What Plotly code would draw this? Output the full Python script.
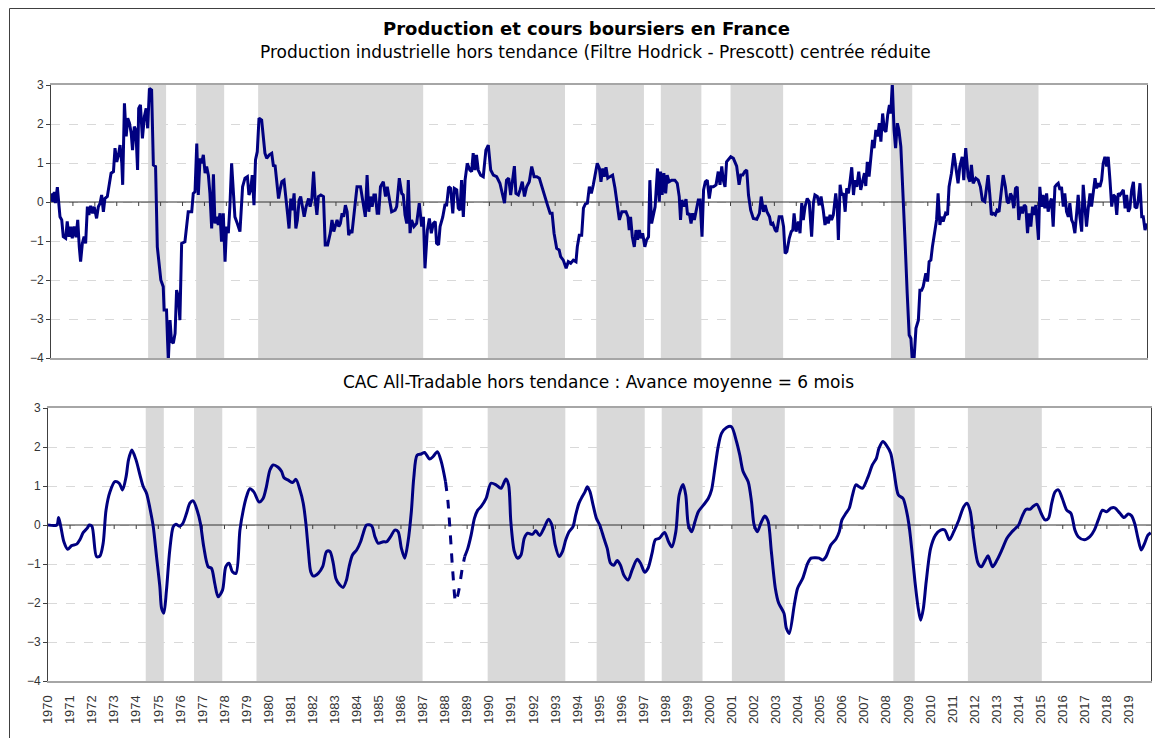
import plotly.graph_objects as go

# ---------------- Data ----------------
YEARS = list(range(1970, 2020))
YEAR_LABELS = [str(y) for y in YEARS]

# Shaded phases (decimal years)
SHADE_START = [1974.43, 1976.62, 1979.45, 1989.93, 1994.87, 1997.82, 2001.0, 2008.32, 2011.7]
SHADE_END = [1975.25, 1977.9, 1986.98, 1993.45, 1997.05, 1999.67, 2003.4, 2009.29, 2015.05]

# Industrial production, detrended (HP filter), standardized
IP_X = [
    1970.0, 1970.08, 1970.15, 1970.2, 1970.29, 1970.35, 1970.41, 1970.49, 1970.56, 1970.67,
    1970.74, 1970.82, 1970.9, 1970.97, 1971.05, 1971.14, 1971.22, 1971.29, 1971.35, 1971.43,
    1971.51, 1971.58, 1971.66, 1971.73, 1971.81, 1971.9, 1971.97, 1972.08, 1972.16, 1972.24,
    1972.31, 1972.39, 1972.46, 1972.57, 1972.66, 1972.74, 1972.85, 1972.92, 1973.0, 1973.08,
    1973.15, 1973.23, 1973.27, 1973.35, 1973.43, 1973.5, 1973.58, 1973.66, 1973.72, 1973.8,
    1973.87, 1973.95, 1974.0, 1974.08, 1974.17, 1974.26, 1974.34, 1974.41, 1974.49, 1974.59,
    1974.67, 1974.77, 1974.85, 1974.94, 1975.01, 1975.12, 1975.16, 1975.27, 1975.35, 1975.43,
    1975.5, 1975.58, 1975.66, 1975.73, 1975.81, 1975.88, 1975.96, 1976.11, 1976.19, 1976.26,
    1976.42, 1976.49, 1976.57, 1976.65, 1976.72, 1976.8, 1976.87, 1976.95, 1977.03, 1977.1,
    1977.18, 1977.25, 1977.33, 1977.41, 1977.48, 1977.56, 1977.63, 1977.71, 1977.78, 1977.86,
    1977.94, 1978.01, 1978.09, 1978.16, 1978.24, 1978.32, 1978.39, 1978.5, 1978.62, 1978.74,
    1978.85, 1978.96, 1979.03, 1979.11, 1979.18, 1979.26, 1979.33, 1979.41, 1979.49, 1979.61,
    1979.69, 1979.76, 1979.84, 1979.96, 1980.07, 1980.15, 1980.22, 1980.3, 1980.38, 1980.45,
    1980.53, 1980.63, 1980.72, 1980.79, 1980.86, 1980.94, 1981.01, 1981.09, 1981.17, 1981.24,
    1981.32, 1981.39, 1981.47, 1981.55, 1981.64, 1981.75, 1981.82, 1981.9, 1981.98, 1982.05,
    1982.13, 1982.2, 1982.31, 1982.43, 1982.51, 1982.62, 1982.74, 1982.82, 1982.9, 1982.97,
    1983.05, 1983.13, 1983.2, 1983.28, 1983.35, 1983.43, 1983.51, 1983.58, 1983.66, 1983.73,
    1983.81, 1983.89, 1983.96, 1984.12, 1984.27, 1984.34, 1984.42, 1984.5, 1984.57, 1984.65,
    1984.73, 1984.8, 1984.88, 1984.95, 1985.03, 1985.16, 1985.26, 1985.34, 1985.54, 1985.7,
    1985.77, 1985.89, 1986.0, 1986.07, 1986.15, 1986.23, 1986.3, 1986.38, 1986.45, 1986.56,
    1986.68, 1986.8, 1986.91, 1986.99, 1987.06, 1987.17, 1987.26, 1987.35, 1987.44, 1987.53,
    1987.59, 1987.68, 1987.75, 1987.87, 1987.97, 1988.05, 1988.14, 1988.23, 1988.33, 1988.4,
    1988.51, 1988.58, 1988.66, 1988.73, 1988.81, 1988.89, 1988.99, 1989.11, 1989.19, 1989.26,
    1989.34, 1989.41, 1989.49, 1989.6, 1989.72, 1989.84, 1989.95, 1990.06, 1990.18, 1990.33,
    1990.48, 1990.6, 1990.69, 1990.78, 1990.88, 1990.97, 1991.05, 1991.14, 1991.21, 1991.32,
    1991.4, 1991.5, 1991.6, 1991.7, 1991.82, 1991.93, 1992.04, 1992.16, 1992.28, 1992.39,
    1992.54, 1992.65, 1992.77, 1992.86, 1992.95, 1993.07, 1993.18, 1993.25, 1993.37, 1993.5,
    1993.6, 1993.71, 1993.83, 1993.95, 1994.01, 1994.1, 1994.21, 1994.29, 1994.38, 1994.47,
    1994.56, 1994.65, 1994.74, 1994.83, 1994.92, 1995.02, 1995.09, 1995.17, 1995.24, 1995.32,
    1995.4, 1995.5, 1995.62, 1995.73, 1995.84, 1995.93, 1996.04, 1996.14, 1996.23, 1996.32,
    1996.38, 1996.44, 1996.52, 1996.61, 1996.69, 1996.76, 1996.84, 1996.91, 1996.99, 1997.09,
    1997.17, 1997.26, 1997.32, 1997.4, 1997.47, 1997.56, 1997.67, 1997.75, 1997.81, 1997.88,
    1997.96, 1998.04, 1998.11, 1998.2, 1998.31, 1998.46, 1998.57, 1998.66, 1998.72, 1998.78,
    1998.87, 1998.97, 1999.04, 1999.12, 1999.2, 1999.27, 1999.35, 1999.42, 1999.53, 1999.61,
    1999.7, 1999.77, 1999.85, 1999.94, 2000.03, 2000.11, 2000.22, 2000.34, 2000.44, 2000.52,
    2000.6, 2000.67, 2000.75, 2000.82, 2000.9, 2001.01, 2001.13, 2001.28, 2001.39, 2001.47,
    2001.56, 2001.65, 2001.74, 2001.82, 2001.92, 2002.04, 2002.2, 2002.32, 2002.4, 2002.5,
    2002.58, 2002.66, 2002.78, 2002.85, 2002.93, 2003.04, 2003.11, 2003.22, 2003.34, 2003.42,
    2003.49, 2003.57, 2003.68, 2003.77, 2003.84, 2003.9, 2003.99, 2004.1, 2004.17, 2004.25,
    2004.32, 2004.4, 2004.5, 2004.59, 2004.7, 2004.78, 2004.85, 2004.96, 2005.05, 2005.13,
    2005.23, 2005.31, 2005.39, 2005.46, 2005.54, 2005.61, 2005.69, 2005.8, 2005.87, 2005.92,
    2006.0, 2006.07, 2006.15, 2006.23, 2006.3, 2006.38, 2006.46, 2006.53, 2006.61, 2006.68,
    2006.76, 2006.85, 2006.94, 2007.03, 2007.11, 2007.17, 2007.24, 2007.32, 2007.4, 2007.48,
    2007.55, 2007.63, 2007.71, 2007.79, 2007.86, 2007.94, 2008.02, 2008.09, 2008.17, 2008.25,
    2008.31, 2008.38, 2008.46, 2008.53, 2008.61, 2008.68, 2008.77, 2008.85, 2008.96, 2009.06,
    2009.15, 2009.23, 2009.29, 2009.37, 2009.46, 2009.57, 2009.64, 2009.72, 2009.79, 2009.91,
    2009.99, 2010.06, 2010.14, 2010.21, 2010.32, 2010.4, 2010.47, 2010.55, 2010.62, 2010.7,
    2010.81, 2010.9, 2010.97, 2011.08, 2011.19, 2011.28, 2011.38, 2011.46, 2011.57, 2011.64,
    2011.73, 2011.84, 2011.92, 2011.99, 2012.07, 2012.19, 2012.3, 2012.4, 2012.49, 2012.6,
    2012.67, 2012.75, 2012.83, 2012.9, 2012.98, 2013.08, 2013.16, 2013.25, 2013.36, 2013.44,
    2013.54, 2013.62, 2013.69, 2013.77, 2013.84, 2013.92, 2014.0, 2014.08, 2014.15, 2014.24,
    2014.32, 2014.4, 2014.47, 2014.55, 2014.62, 2014.7, 2014.78, 2014.85, 2014.93, 2014.99,
    2015.05, 2015.11, 2015.19, 2015.26, 2015.34, 2015.42, 2015.49, 2015.57, 2015.64, 2015.72,
    2015.8, 2015.87, 2015.95, 2016.03, 2016.1, 2016.18, 2016.25, 2016.33, 2016.41, 2016.48,
    2016.56, 2016.63, 2016.71, 2016.79, 2016.86, 2016.94, 2017.02, 2017.09, 2017.17, 2017.24,
    2017.32, 2017.4, 2017.47, 2017.55, 2017.63, 2017.7, 2017.78, 2017.85, 2017.93, 2018.0,
    2018.08, 2018.16, 2018.23, 2018.31, 2018.39, 2018.46, 2018.54, 2018.62, 2018.69, 2018.77,
    2018.84, 2018.92, 2019.0, 2019.07, 2019.15, 2019.22, 2019.3, 2019.38, 2019.45, 2019.53,
    2019.6, 2019.68, 2019.76, 2019.83, 2019.91, 2019.99,
]
IP_Y = [
    0.22, 0.01, 0.26, -0.03, 0.38, 0.01, -0.38, -0.46, -0.89, -0.93,
    -0.5, -0.89, -0.63, -0.93, -0.63, -0.9, -0.46, -1.15, -1.53, -1.06,
    -0.89, -1.06, -0.12, -0.33, -0.1, -0.29, -0.12, -0.42, -0.12, -0.03,
    0.18, -0.25, 0.09, 0.14, 0.48, 0.74, 0.78, 1.38, 1.03, 1.21,
    1.46, 0.99, 0.44, 2.53, 1.68, 2.15, 2.02, 1.76, 1.33, 1.93,
    1.85, 0.82, 2.4, 2.49, 1.63, 2.19, 2.4, 1.89, 2.91, 2.87,
    0.95, 0.91, -1.15, -1.66, -2.0, -2.17, -2.77, -2.77, -4.1, -3.03,
    -3.58, -3.62, -3.37, -2.26, -2.43, -3.03, -1.06, -1.02, -0.63, -0.25,
    -0.25, 0.22, 0.26, 1.5, 0.18, 1.12, 0.99, 1.21, 0.74, 0.91,
    0.69, 0.22, -0.68, 0.71, -0.55, -0.38, -0.59, -0.29, -1.02, -0.29,
    -1.53, -0.63, -0.8, -0.12, 0.99, 0.31, -0.38, -0.55, -0.76, 0.39,
    0.61, 0.65, 0.18, 0.31, 0.69, -0.08, 1.08, 1.29, 2.15, 2.1,
    1.55, 1.25, 1.12, 1.21, 1.25, 0.91, 0.95, 0.56, 0.09, 0.31,
    0.52, 0.56, -0.03, -0.29, -0.68, 0.09, -0.21, 0.22, -0.68, -0.46,
    0.05, 0.14, -0.12, -0.38, -0.12, 0.09, -0.12, 0.09, 0.78, 0.09,
    -0.33, 0.14, 0.18, 0.14, -1.1, -1.1, -0.8, -0.46, -0.76, -0.63,
    -0.46, -0.63, -0.55, -0.29, -0.38, -0.08, -0.25, -0.85, -0.72, -0.8,
    -0.42, 0.05, 0.39, 0.39, -0.08, -0.38, 0.69, -0.25, 0.14, -0.12,
    0.18, 0.18, -0.29, -0.29, 0.39, 0.52, 0.14, 0.39, -0.25, -0.21,
    -0.12, 0.61, 0.22, 0.18, -0.33, -0.55, 0.56, -0.8, -0.46, -0.63,
    -0.55, -0.03, -0.63, -0.38, -1.7, -0.72, -0.42, -0.8, -0.55, -0.5,
    -1.06, -1.1, -0.63, -0.39, -0.08, -0.08, 0.39, 0.35, -0.29, 0.35,
    0.31, -0.16, -0.21, 0.56, -0.38, 0.56, 0.99, 0.82, 0.78, 1.25,
    0.82, 1.21, 0.82, 0.69, 0.65, 1.33, 1.46, 0.82, 0.69, 0.65,
    0.48, 0.22, -0.03, 0.56, 0.61, 0.18, 0.56, 0.92, 0.22, 0.18,
    0.31, 0.52, 0.14, 0.39, 0.52, 0.91, 0.65, 0.65, 0.61, 0.39,
    0.14, -0.08, -0.29, -0.29, -0.8, -1.19, -1.23, -1.4, -1.49, -1.7,
    -1.53, -1.57, -1.49, -1.53, -1.15, -0.85, -0.85, -0.16, -0.05, -0.03,
    0.39, 0.22, 0.44, 0.69, 0.99, 0.86, 0.52, 0.86, 0.65, 0.89,
    0.61, 0.65, 0.69, 0.35, -0.16, -0.46, -0.25, -0.25, -0.25, -0.38,
    -0.72, -0.38, -0.89, -1.15, -0.72, -0.97, -0.72, -0.93, -0.8, -1.15,
    -0.97, -0.89, 0.56, -0.55, -0.38, -0.12, 0.86, 0.01, 0.78, 0.18,
    0.74, 0.22, 0.69, 0.52, 0.56, 0.56, 0.48, 0.14, -0.46, 0.05,
    -0.12, 0.07, -0.33, -0.29, -0.55, -0.29, -0.46, -0.25, 0.05, 0.05,
    -0.89, 0.31, 0.52, 0.56, 0.09, 0.39, 0.39, 0.44, 0.78, 0.44,
    0.91, 0.56, 0.39, 1.03, 1.08, 1.16, 1.12, 0.92, 0.44, 0.69,
    0.69, 0.78, 0.82, 0.18, -0.21, -0.42, -0.44, -0.29, 0.14, -0.25,
    -0.08, -0.25, -0.38, -0.59, -0.55, -0.72, -0.76, -0.38, -0.38, -0.63,
    -1.32, -1.27, -0.93, -0.76, -0.72, -0.29, -0.76, -0.5, -0.8, -0.03,
    -0.46, -0.12, 0.09, 0.01, -0.89, -0.03, 0.18, 0.14, -0.08, 0.14,
    -0.21, -0.59, -0.38, -0.55, -0.33, -0.46, -0.33, 0.22, -0.16, -0.97,
    0.44, 0.18, 0.22, -0.25, 0.35, 0.22, 0.56, 0.89, 0.18, 0.56,
    0.39, 0.78, 0.31, 0.56, 0.74, 0.41, 1.03, 0.65, 1.08, 1.59,
    1.38, 1.85, 1.68, 2.02, 1.55, 2.27, 1.85, 1.8, 2.23, 2.49,
    2.27, 3.04, 1.85, 1.38, 2.02, 1.85, 1.42, 0.22, -0.97, -2.34,
    -3.41, -3.5, -4.05, -4.05, -3.24, -3.03, -2.26, -2.26, -2.17, -1.83,
    -2.04, -1.53, -1.49, -1.15, -0.8, -0.46, 0.22, -0.59, -0.38, -0.5,
    -0.29, -0.33, 0.39, 0.74, 1.25, 0.91, 0.48, 0.91, 1.16, 0.56,
    1.38, 0.65, 0.52, 0.95, 0.48, 0.61, 0.56, 0.39, 0.05, 0.01,
    0.35, 0.69, 0.18, -0.33, -0.29, -0.33, -0.21, -0.25, 0.31, 0.69,
    0.39, 0.01, -0.03, 0.22, 0.14, -0.16, 0.35, 0.39, -0.46, -0.12,
    -0.29, -0.08, -0.12, -0.8, -0.29, -0.63, -0.12, -0.33, -0.08, -0.55,
    -0.97, 0.39, -0.12, 0.18, -0.16, 0.22, -0.25, -0.03, 0.09, -0.63,
    0.39, 0.44, 0.48, 0.31, 0.39, -0.12, 0.22, -0.25, -0.38, -0.03,
    -0.46, -0.55, -0.8, -0.29, 0.18, -0.38, -0.76, 0.44, -0.29, -0.63,
    -0.16, 0.22, -0.12, 0.22, 0.61, 0.35, 0.48, 0.39, 0.56, 0.99,
    1.16, 0.91, 1.16, 0.56, -0.12, 0.18, 0.14, -0.33, 0.22, 0.18,
    0.26, 0.31, -0.16, 0.18, -0.25, -0.16, 0.31, 0.52, -0.12, -0.16,
    0.05, 0.48, -0.38, -0.38, -0.72, -0.55,
]

# CAC All-Tradable, detrended (leading 6 months)
CAC_X = [
    1970.0, 1970.4, 1970.48, 1970.58, 1970.72, 1970.89, 1971.07, 1971.3, 1971.45, 1971.6,
    1971.78, 1971.87, 1971.99, 1972.2, 1972.35, 1972.5, 1972.63, 1972.81, 1973.03, 1973.23,
    1973.38, 1973.54, 1973.65, 1973.8, 1973.99, 1974.17, 1974.32, 1974.47, 1974.62, 1974.77,
    1974.92, 1975.07, 1975.15, 1975.25, 1975.37, 1975.52, 1975.68, 1975.8, 1975.95, 1976.1,
    1976.28, 1976.43, 1976.58, 1976.76, 1976.91, 1977.06, 1977.26, 1977.41, 1977.56, 1977.71,
    1977.91, 1978.06, 1978.21, 1978.36, 1978.52, 1978.7, 1978.85, 1979.0, 1979.15, 1979.33,
    1979.57, 1979.75, 1979.9, 1980.06, 1980.21, 1980.43, 1980.59, 1980.69, 1980.89, 1981.09,
    1981.24, 1981.42, 1981.57, 1981.69, 1981.8, 1981.91, 1982.03, 1982.25, 1982.45, 1982.63,
    1982.78, 1982.93, 1983.05, 1983.23, 1983.38, 1983.53, 1983.65, 1983.8, 1983.99, 1984.17,
    1984.29, 1984.44, 1984.67, 1984.82, 1984.97, 1985.2, 1985.35, 1985.53, 1985.72, 1985.87,
    1986.02, 1986.17, 1986.32, 1986.47, 1986.58, 1986.73, 1986.92, 1987.07, 1987.3, 1987.45,
    1987.65, 1987.83, 1988.02, 1988.13, 1988.24, 1988.36, 1988.48, 1988.61, 1988.78, 1988.89,
    1989.03, 1989.18, 1989.33, 1989.48, 1989.63, 1989.86, 1990.08, 1990.31, 1990.53, 1990.76,
    1990.88, 1990.98, 1991.14, 1991.29, 1991.44, 1991.59, 1991.74, 1991.96, 1992.11, 1992.29,
    1992.49, 1992.69, 1992.84, 1992.99, 1993.17, 1993.32, 1993.47, 1993.62, 1993.8, 1993.92,
    1994.07, 1994.22, 1994.34, 1994.45, 1994.57, 1994.71, 1994.86, 1995.01, 1995.2, 1995.35,
    1995.5, 1995.65, 1995.8, 1995.95, 1996.1, 1996.3, 1996.48, 1996.71, 1996.86, 1997.05,
    1997.2, 1997.38, 1997.53, 1997.71, 1997.95, 1998.13, 1998.28, 1998.46, 1998.61, 1998.79,
    1998.91, 1999.03, 1999.18, 1999.33, 1999.48, 1999.71, 1999.93, 2000.08, 2000.23, 2000.38,
    2000.53, 2000.76, 2000.98, 2001.21, 2001.36, 2001.51, 2001.74, 2001.89, 2002.01, 2002.16,
    2002.31, 2002.49, 2002.64, 2002.79, 2002.97, 2003.12, 2003.36, 2003.47, 2003.6, 2003.83,
    2003.98, 2004.21, 2004.44, 2004.59, 2004.81, 2004.96, 2005.11, 2005.27, 2005.49, 2005.72,
    2005.87, 2005.99, 2006.17, 2006.32, 2006.47, 2006.62, 2006.77, 2006.92, 2007.15, 2007.37,
    2007.55, 2007.67, 2007.85, 2008.0, 2008.2, 2008.35, 2008.55, 2008.76, 2008.91, 2009.03,
    2009.15, 2009.3, 2009.45, 2009.56, 2009.68, 2009.81, 2010.01, 2010.23, 2010.46, 2010.65,
    2010.86, 2011.06, 2011.29, 2011.51, 2011.66, 2011.81, 2011.96, 2012.16, 2012.31, 2012.49,
    2012.61, 2012.82, 2013.02, 2013.24, 2013.47, 2013.67, 2013.85, 2014.0, 2014.15, 2014.33,
    2014.53, 2014.68, 2014.83, 2015.02, 2015.2, 2015.35, 2015.5, 2015.65, 2015.8, 2015.98,
    2016.18, 2016.37, 2016.55, 2016.7, 2016.98, 2017.23, 2017.43, 2017.61, 2017.8, 2017.99,
    2018.18, 2018.36, 2018.59, 2018.78, 2018.96, 2019.11, 2019.26, 2019.41, 2019.56, 2019.71,
    2019.86, 2019.99,
]
CAC_Y = [
    0.0, 0.0, 0.19, -0.04, -0.43, -0.62, -0.53, -0.49, -0.37, -0.19,
    -0.08, 0.0, -0.03, -0.81, -0.8, -0.47, 0.38, 0.85, 1.11, 1.07,
    0.9, 1.24, 1.67, 1.92, 1.67, 1.28, 0.98, 0.81, 0.43, -0.04,
    -0.81, -1.58, -2.14, -2.26, -1.67, -0.64, -0.04, 0.02, -0.03, 0.03,
    0.3, 0.56, 0.62, 0.38, 0.04, -0.56, -1.07, -1.11, -1.5, -1.84,
    -1.67, -1.07, -0.98, -1.2, -1.24, -0.13, 0.38, 0.73, 0.93, 0.85,
    0.59, 0.68, 0.98, 1.41, 1.54, 1.48, 1.37, 1.22, 1.15, 1.09,
    1.17, 0.9, 0.56, 0.04, -0.64, -1.2, -1.31, -1.24, -1.07, -0.68,
    -0.68, -0.98, -1.37, -1.54, -1.6, -1.41, -1.07, -0.77, -0.64, -0.43,
    -0.21, 0.0, -0.02, -0.3, -0.47, -0.43, -0.43, -0.3, -0.13, -0.17,
    -0.6, -0.85, -0.43, 0.34, 1.2, 1.79, 1.82, 1.86, 1.69, 1.75,
    1.88, 1.62, 1.11, 0.6, -0.26, -1.28, -1.97, -1.71, -1.11, -0.81,
    -0.6, -0.26, 0.17, 0.38, 0.47, 0.68, 1.07, 1.03, 0.94, 1.18,
    1.03, 0.09, -0.68, -0.85, -0.77, -0.34, -0.21, -0.24, -0.15, -0.27,
    -0.07, 0.15, 0.0, -0.51, -0.81, -0.68, -0.38, -0.17, -0.04, 0.26,
    0.56, 0.73, 0.85, 0.98, 0.85, 0.51, 0.17, 0.0, -0.34, -0.6,
    -0.98, -1.03, -0.91, -1.03, -1.28, -1.41, -1.15, -0.88, -0.98, -1.21,
    -1.11, -0.73, -0.38, -0.34, -0.19, -0.43, -0.56, -0.17, 0.77, 1.04,
    0.77, 0.0, -0.17, 0.09, 0.34, 0.51, 0.68, 0.9, 1.45, 2.01,
    2.35, 2.5, 2.52, 2.14, 1.79, 1.37, 1.11, 0.6, 0.0, -0.17,
    0.04, 0.23, 0.1, -0.68, -1.62, -2.0, -2.26, -2.65, -2.78, -2.05,
    -1.62, -1.37, -0.98, -0.85, -0.84, -0.85, -0.9, -0.81, -0.51, -0.36,
    -0.17, 0.13, 0.3, 0.43, 0.77, 1.03, 0.98, 0.94, 1.2, 1.54,
    1.71, 1.97, 2.14, 2.05, 1.84, 1.37, 0.77, 0.68, 0.38, 0.0,
    -0.6, -1.45, -2.14, -2.44, -2.14, -1.45, -0.6, -0.26, -0.13, -0.13,
    -0.38, -0.17, 0.13, 0.47, 0.56, 0.34, -0.34, -0.98, -1.07, -0.9,
    -0.79, -1.07, -0.9, -0.64, -0.34, -0.19, -0.09, 0.0, 0.21, 0.4,
    0.41, 0.49, 0.53, 0.3, 0.13, 0.17, 0.56, 0.85, 0.9, 0.68,
    0.38, 0.3, -0.13, -0.3, -0.38, -0.3, -0.13, 0.13, 0.38, 0.34,
    0.43, 0.44, 0.3, 0.19, 0.28, 0.24, 0.04, -0.34, -0.64, -0.47,
    -0.26, -0.2,
]
# Portion of the CAC series drawn dashed
CAC_DASH_FROM = 1988.02
CAC_DASH_TO = 1988.89

TITLE = "Production et cours boursiers en France"
SUB1 = "Production industrielle hors tendance (Filtre Hodrick - Prescott) centrée réduite"
SUB2 = "CAC All-Tradable hors tendance : Avance moyenne = 6 mois"

# ---------------- Figure ----------------
# The page body keeps an 8px margin, so the figure is sized to the visible area.
OFF = 8
W, H = 1163 - OFF, 738 - OFF
NAVY = "#000080"
FONT = "Liberation Sans, Arial, sans-serif"
TFONT = "DejaVu Sans, Liberation Sans, sans-serif"

fig = go.Figure()

fig.add_trace(go.Scatter(x=IP_X, y=IP_Y, mode="lines", line=dict(color=NAVY, width=3),
                         xaxis="x", yaxis="y", showlegend=False, hoverinfo="skip"))

sx1 = [x for x in CAC_X if x <= CAC_DASH_FROM]
sy1 = [y for x, y in zip(CAC_X, CAC_Y) if x <= CAC_DASH_FROM]
dx = [x for x in CAC_X if CAC_DASH_FROM <= x <= CAC_DASH_TO]
dy = [y for x, y in zip(CAC_X, CAC_Y) if CAC_DASH_FROM <= x <= CAC_DASH_TO]
sx2 = [x for x in CAC_X if x >= CAC_DASH_TO]
sy2 = [y for x, y in zip(CAC_X, CAC_Y) if x >= CAC_DASH_TO]
for xs, ys, dash in [(sx1, sy1, "solid"), (dx, dy, "dash"), (sx2, sy2, "solid")]:
    fig.add_trace(go.Scatter(x=xs, y=ys, mode="lines",
                             line=dict(color=NAVY, width=3, dash=dash, shape="spline", smoothing=0.8),
                             xaxis="x2", yaxis="y2", showlegend=False, hoverinfo="skip"))

def px_x(p):
    """screen pixel -> paper fraction"""
    return (p - OFF) / W

def px_y(p):
    return 1 - (p - OFF) / H

shapes = []
for axx, axy in [("x", "y"), ("x2", "y2")]:
    for s, e in zip(SHADE_START, SHADE_END):
        shapes.append(dict(type="rect", xref=axx, yref=axy, x0=s, x1=e, y0=-4, y1=3,
                           fillcolor="#d9d9d9", line=dict(width=0), layer="between"))
    # zero line drawn over the shading
    shapes.append(dict(type="line", xref=axx, yref=axy, x0=YEARS[0], x1=YEARS[-1] + 1,
                       y0=0, y1=0, line=dict(color="#333333", width=1), layer="between"))
    for yr in YEARS[1:]:
        shapes.append(dict(type="line", xref=axx, yref=axy, x0=yr, x1=yr,
                           ysizemode="pixel", yanchor=0, y0=0, y1=-4,
                           line=dict(color="#404040", width=1), layer="between"))

# outer chart frame (left and top edges)
shapes.append(dict(type="line", xref="paper", yref="paper", x0=px_x(9.5), x1=px_x(9.5),
                   y0=0, y1=px_y(8.5), line=dict(color="#404040", width=1)))
shapes.append(dict(type="line", xref="paper", yref="paper", x0=px_x(9.5), x1=1,
                   y0=px_y(8.5), y1=px_y(8.5), line=dict(color="#404040", width=1)))

yaxis_common = dict(range=[-4, 3], dtick=1, tick0=0, showgrid=True, gridcolor="#d9d9d9",
                    griddash="dash", gridwidth=1, zeroline=False,
                    showline=True, linecolor="#404040", linewidth=1, automargin=False,
                    mirror=True, ticks="outside", ticklen=4, tickcolor="#404040",
                    tickfont=dict(family=FONT, size=12, color="#333333"), fixedrange=True)

fig.update_layout(
    width=W, height=H, autosize=False,
    margin=dict(l=0, r=0, t=0, b=0, pad=0, autoexpand=False),
    paper_bgcolor="white", plot_bgcolor="white",
    font=dict(family=FONT, color="#000000"),
    xaxis=dict(domain=[px_x(51), px_x(1147)], range=[1970, 2020], showgrid=False,
               zeroline=False, showticklabels=False, ticks="", showline=True, automargin=False,
               linecolor="#a6a6a6", linewidth=2, mirror=True, anchor="y", fixedrange=True),
    yaxis=dict(domain=[px_y(358), px_y(85)], anchor="x", **yaxis_common),
    xaxis2=dict(domain=[px_x(48), px_x(1151)], range=[1970, 2020], showgrid=False,
                zeroline=False, tickmode="array", tickvals=YEARS, ticktext=YEAR_LABELS,
                tickangle=-90, ticks="outside", ticklen=7, tickcolor="rgba(0,0,0,0)",
                tickfont=dict(family=FONT, size=13, color="#333333"), automargin=False,
                showline=True, linecolor="#a6a6a6", linewidth=2, mirror=True, anchor="y2",
                fixedrange=True),
    yaxis2=dict(domain=[px_y(681), px_y(408)], anchor="x2", **yaxis_common),
    shapes=shapes,
    annotations=[
        dict(text="<b>" + TITLE + "</b>", xref="paper", yref="paper", x=px_x(587), y=px_y(28),
             xanchor="center", yanchor="middle", showarrow=False,
             font=dict(family=TFONT, size=18, color="#000000")),
        dict(text=SUB1, xref="paper", yref="paper", x=px_x(596), y=px_y(52),
             xanchor="center", yanchor="middle", showarrow=False,
             font=dict(family=TFONT, size=17, color="#000000")),
        dict(text=SUB2, xref="paper", yref="paper", x=px_x(599), y=px_y(382),
             xanchor="center", yanchor="middle", showarrow=False,
             font=dict(family=TFONT, size=17, color="#000000")),
    ],
)

fig.write_html("out.html", config={"displayModeBar": False})
